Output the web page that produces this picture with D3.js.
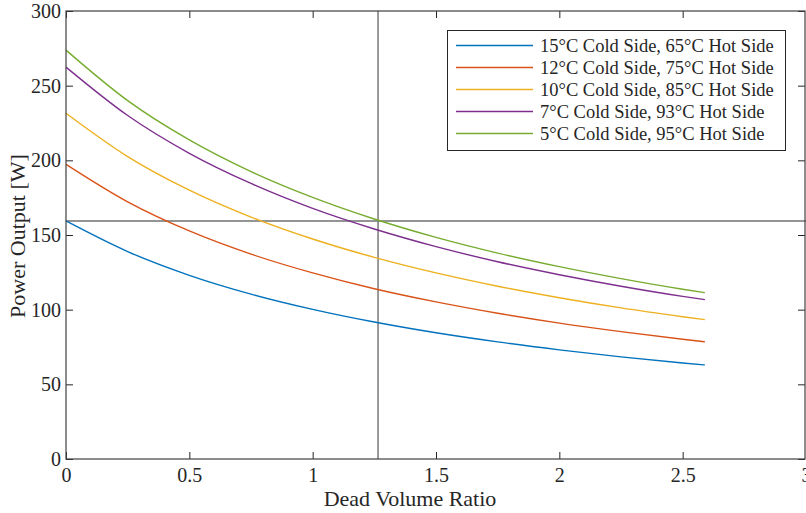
<!DOCTYPE html>
<html>
<head>
<meta charset="utf-8">
<script src="https://cdn.jsdelivr.net/npm/d3@7"></script>
<style>
  body { margin: 0; background: #fff; }
  text { font-family: "Liberation Serif", "Times New Roman", serif; fill: #262626; }
</style>
</head>
<body>
<div class="graph"></div>
<script>
// dead volume ratio samples (x)
const ratio = [0, 0.25, 0.5, 0.75, 1, 1.25, 1.5, 1.75, 2, 2.25, 2.5, 2.59]

// power output [W]
const p15_65 = [159.4, 138.9, 123.0, 110.4, 100.2, 91.7, 84.5, 78.4, 73.1, 68.4, 64.3, 63.0]
const p12_75 = [197.3, 172.2, 152.7, 137.2, 124.6, 114.0, 105.2, 97.6, 91.0, 85.3, 80.2, 78.5]
const p10_85 = [231.5, 202.5, 180.0, 162.0, 147.3, 135.0, 124.6, 115.7, 108.0, 101.2, 95.3, 93.3]
const p7_93 = [262.4, 230.0, 204.7, 184.5, 167.8, 154.0, 142.2, 132.1, 123.4, 115.7, 108.9, 106.7]
const p5_95 = [273.8, 240.0, 213.7, 192.5, 175.2, 160.7, 148.4, 137.9, 128.8, 120.8, 113.7, 111.4]

const seriesNames = [
    "15°C Cold Side, 65°C Hot Side",
    "12°C Cold Side, 75°C Hot Side",
    "10°C Cold Side, 85°C Hot Side",
    "7°C Cold Side, 93°C Hot Side",
    "5°C Cold Side, 95°C Hot Side"
]
const seriesColors = ["#0072BD", "#D95319", "#EDB120", "#7E2F8E", "#77AC30"]

const xTicks = [0, 0.5, 1, 1.5, 2, 2.5, 3]
const yTicks = [0, 50, 100, 150, 200, 250, 300]

// reference lines
const refX = [1.265]
const refY = [159.4]

function drawChart() {
    const svg = d3.select(".graph").append("svg").attr("width", 806).attr("height", 513)
    const left = 66, right = 806, top = 11, bottom = 459

    const xScale = d3.scaleLinear().domain([0, 3]).range([left, right])
    const yScale = d3.scaleLinear().domain([0, 300]).range([bottom, top])

    const allSeries = [p15_65, p12_75, p10_85, p7_93, p5_95]

    // reference lines first, under curves
    svg.selectAll(".refx").data(refX).enter().append("line")
        .attr("x1", d => xScale(d)).attr("x2", d => xScale(d))
        .attr("y1", top).attr("y2", bottom)
        .attr("stroke", "#707070").attr("stroke-width", 1.4)
    svg.selectAll(".refy").data(refY).enter().append("line")
        .attr("x1", left).attr("x2", right)
        .attr("y1", d => yScale(d)).attr("y2", d => yScale(d))
        .attr("stroke", "#707070").attr("stroke-width", 1.4)

    const line = d3.line()
        .x((d, i) => xScale(ratio[i]))
        .y(d => yScale(d))
        .curve(d3.curveMonotoneX)

    allSeries.forEach((s, i) => {
        svg.append("path").datum(s)
            .attr("d", line)
            .attr("fill", "none")
            .attr("stroke", seriesColors[i])
            .attr("stroke-width", 1.4)
    })

    // axes, ticks pointing inward
    const axisStyle = g => {
        g.select(".domain").remove()
        g.selectAll(".tick line").attr("stroke", "#262626").attr("stroke-width", 1)
        g.selectAll("text").style("font-family", "Liberation Serif").style("font-size", "20px").attr("fill", "#262626")
    }
    svg.append("g").attr("transform", "translate(0," + bottom + ")")
        .call(d3.axisBottom(xScale).tickValues(xTicks).tickSize(-7).tickPadding(9).tickFormat(d => d))
        .call(axisStyle)
    svg.append("g").attr("transform", "translate(0," + top + ")")
        .call(d3.axisTop(xScale).tickValues(xTicks).tickSize(-7).tickFormat(""))
        .call(axisStyle)
    svg.append("g").attr("transform", "translate(" + left + ",0)")
        .call(d3.axisLeft(yScale).tickValues(yTicks).tickSize(-7).tickPadding(5).tickFormat(d => d))
        .call(axisStyle)
    svg.append("g").attr("transform", "translate(" + (right - 1) + ",0)")
        .call(d3.axisRight(yScale).tickValues(yTicks).tickSize(-7).tickFormat(""))
        .call(axisStyle)

    // box
    svg.append("rect")
        .attr("x", left).attr("y", top)
        .attr("width", right - 1 - left).attr("height", bottom - top)
        .attr("fill", "none").attr("stroke", "#404040").attr("stroke-width", 1.2)

    // axis labels
    svg.append("text")
        .attr("x", 410).attr("y", 506)
        .attr("text-anchor", "middle")
        .style("font-size", "22px")
        .text("Dead Volume Ratio")
    svg.append("text")
        .attr("transform", "translate(25,236) rotate(-90)")
        .attr("text-anchor", "middle")
        .style("font-size", "22px")
        .text("Power Output [W]")

    // legend
    const lg = svg.append("g")
    lg.append("rect")
        .attr("x", 447.5).attr("y", 30.5).attr("width", 338).attr("height", 120)
        .attr("fill", "#fff").attr("stroke", "#262626").attr("stroke-width", 1)
    seriesNames.forEach((name, i) => {
        const y = 45.5 + i * 22
        lg.append("line")
            .attr("x1", 456).attr("x2", 533).attr("y1", y).attr("y2", y)
            .attr("stroke", seriesColors[i]).attr("stroke-width", 1.4)
        lg.append("text")
            .attr("x", 540).attr("y", y + 6)
            .style("font-size", "18.5px")
            .text(name)
    })
}
drawChart()
</script>
</body>
</html>
